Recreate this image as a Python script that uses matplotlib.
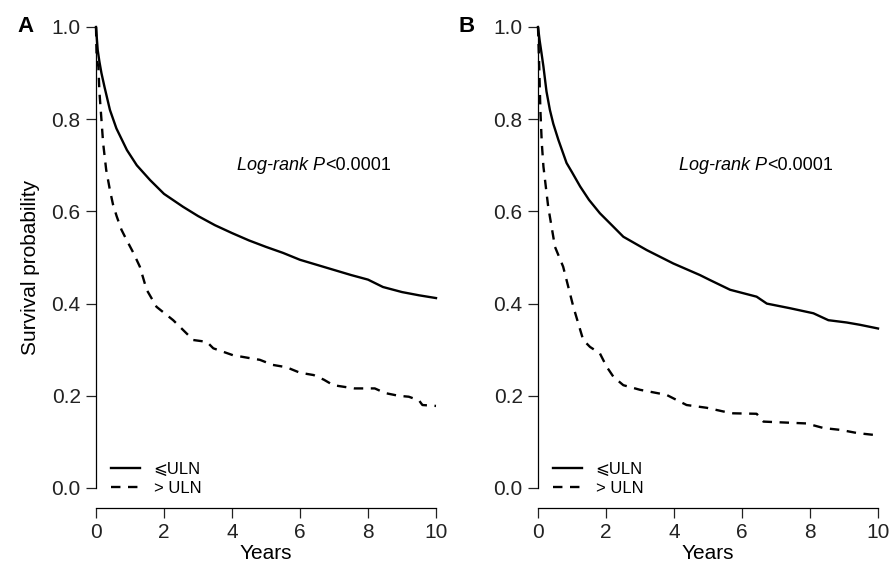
"""Kaplan-Meier style survival curves, two panels (A, B), <=ULN vs >ULN."""

import matplotlib.pyplot as plt

plt.rcParams["font.family"] = ["Liberation Sans", "DejaVu Sans"]

# Panel A
a_low_t = [0, 0.05, 0.1, 0.16, 0.25, 0.41, 0.6, 0.91, 1.2, 1.59, 2.0, 2.56, 3.0, 3.5, 4.0, 4.5, 5.0, 5.5, 6.0, 6.5,
           7.0, 7.5, 8.0, 8.44, 9.0, 9.5, 10]
a_low_s = [1.0, 0.95, 0.925, 0.90, 0.87, 0.82, 0.78, 0.733, 0.70, 0.668, 0.638, 0.61, 0.59, 0.57, 0.553, 0.537, 0.523,
           0.51, 0.495, 0.484, 0.473, 0.462, 0.452, 0.436, 0.425, 0.418, 0.412]
a_high_t = [0, 0.02, 0.07, 0.1, 0.21, 0.3, 0.41, 0.5, 0.61, 0.75, 0.90, 1.1, 1.29, 1.49, 1.78, 2.27, 2.86, 3.26, 3.45,
            4.03, 4.5, 4.82, 5.2, 5.6, 6.0, 6.4, 6.7, 6.98, 7.6, 8.2, 8.5, 8.9, 9.2, 9.5, 9.6, 10]
a_high_s = [1.0, 0.93, 0.914, 0.86, 0.748, 0.69, 0.646, 0.615, 0.589, 0.56, 0.538, 0.51, 0.48, 0.43, 0.393, 0.364,
            0.321, 0.317, 0.303, 0.288, 0.282, 0.278, 0.267, 0.262, 0.25, 0.245, 0.235, 0.223, 0.216, 0.216, 0.206,
            0.2, 0.198, 0.19, 0.18, 0.178]

# Panel B
b_low_t = [0, 0.05, 0.1, 0.16, 0.25, 0.35, 0.45, 0.6, 0.84, 1.0, 1.24, 1.5, 1.82, 2.2, 2.51, 3.2, 3.98, 4.76, 5.06,
           5.65, 6.43, 6.73, 7.41, 8.1, 8.54, 9.08, 9.47, 10]
b_low_s = [1.0, 0.97, 0.945, 0.914, 0.86, 0.82, 0.79, 0.755, 0.705, 0.685, 0.654, 0.625, 0.596, 0.568, 0.545, 0.516,
           0.487, 0.462, 0.451, 0.43, 0.415, 0.4, 0.39, 0.379, 0.364, 0.359, 0.354, 0.346]
b_high_t = [0, 0.03, 0.07, 0.11, 0.16, 0.30, 0.5, 0.74, 0.94, 1.04, 1.33, 1.53, 1.82, 2.02, 2.22, 2.51, 3.0, 3.78,
            4.37, 4.96, 5.45, 5.74, 6.43, 6.63, 7.9, 8.4, 8.9, 9.4, 9.9, 10]
b_high_s = [1.0, 0.93, 0.82, 0.75, 0.697, 0.61, 0.523, 0.48, 0.422, 0.393, 0.321, 0.306, 0.292, 0.263, 0.241, 0.223,
            0.213, 0.202, 0.18, 0.174, 0.166, 0.162, 0.161, 0.144, 0.14, 0.13, 0.126, 0.119, 0.115, 0.115]

PANELS = [
    ("A", a_low_t, a_low_s, a_high_t, a_high_s),
    ("B", b_low_t, b_low_s, b_high_t, b_high_s),
]
X_TICKS = [0, 2, 4, 6, 8, 10]
Y_TICKS = [0.0, 0.2, 0.4, 0.6, 0.8, 1.0]
LEGEND_LABELS = ["\u2A7DULN", "> ULN"]
PVAL_ITALIC = "Log-rank P"
PVAL_REST = "<0.0001"

fig = plt.figure(figsize=(8.89, 5.62), dpi=100)
W, H = 889, 562
lefts = [96, 538]

for left_px, (letter, lt, ls, ht, hs) in zip(lefts, PANELS):
    ax = fig.add_axes([left_px / W, 1 - 508 / H, 340 / W, (508 - 27) / H])
    ax.plot(lt, ls, color="black", lw=1.7, clip_on=False, label=LEGEND_LABELS[0])
    ax.plot(ht, hs, color="black", lw=1.7, ls=(0, (4, 3.2)), clip_on=False, label=LEGEND_LABELS[1])
    ax.set_xlim(0, 10)
    ax.set_ylim(-0.0434, 1.0)
    for side in ("top", "right"):
        ax.spines[side].set_visible(False)
    ax.spines["left"].set_bounds(0, 1)
    ax.spines["bottom"].set_bounds(0, 10)
    ax.spines["left"].set_linewidth(0.9)
    ax.spines["bottom"].set_linewidth(0.9)
    ax.set_xticks(X_TICKS)
    ax.set_yticks(Y_TICKS)
    ax.set_yticklabels([f"{v:.1f}" for v in Y_TICKS])
    ax.tick_params(axis="both", labelsize=15, length=7, width=0.9, colors="#222222", pad=4)
    ax.set_xlabel("Years", fontsize=15, labelpad=1)
    if letter == "A":
        ax.set_ylabel("Survival probability", fontsize=15, labelpad=8)

    t = ax.text(4.14, 0.70, PVAL_ITALIC, fontsize=13, style="italic", va="center", ha="left")
    fig.canvas.draw()
    bb = t.get_window_extent()
    x_end = ax.transData.inverted().transform((bb.x1, bb.y0))[0]
    ax.text(x_end, 0.70, PVAL_REST, fontsize=13, va="center", ha="left")

    ax.legend(loc="lower left", bbox_to_anchor=(0.025, 0.012), frameon=False, fontsize=12,
              handlelength=1.75, handletextpad=0.8, labelspacing=0.2, borderaxespad=0)

    fig.text((left_px - 79) / W, 1 - 26 / H, letter, fontsize=16, fontweight="bold", va="center", ha="left")

fig.savefig("out.png", dpi=100)
